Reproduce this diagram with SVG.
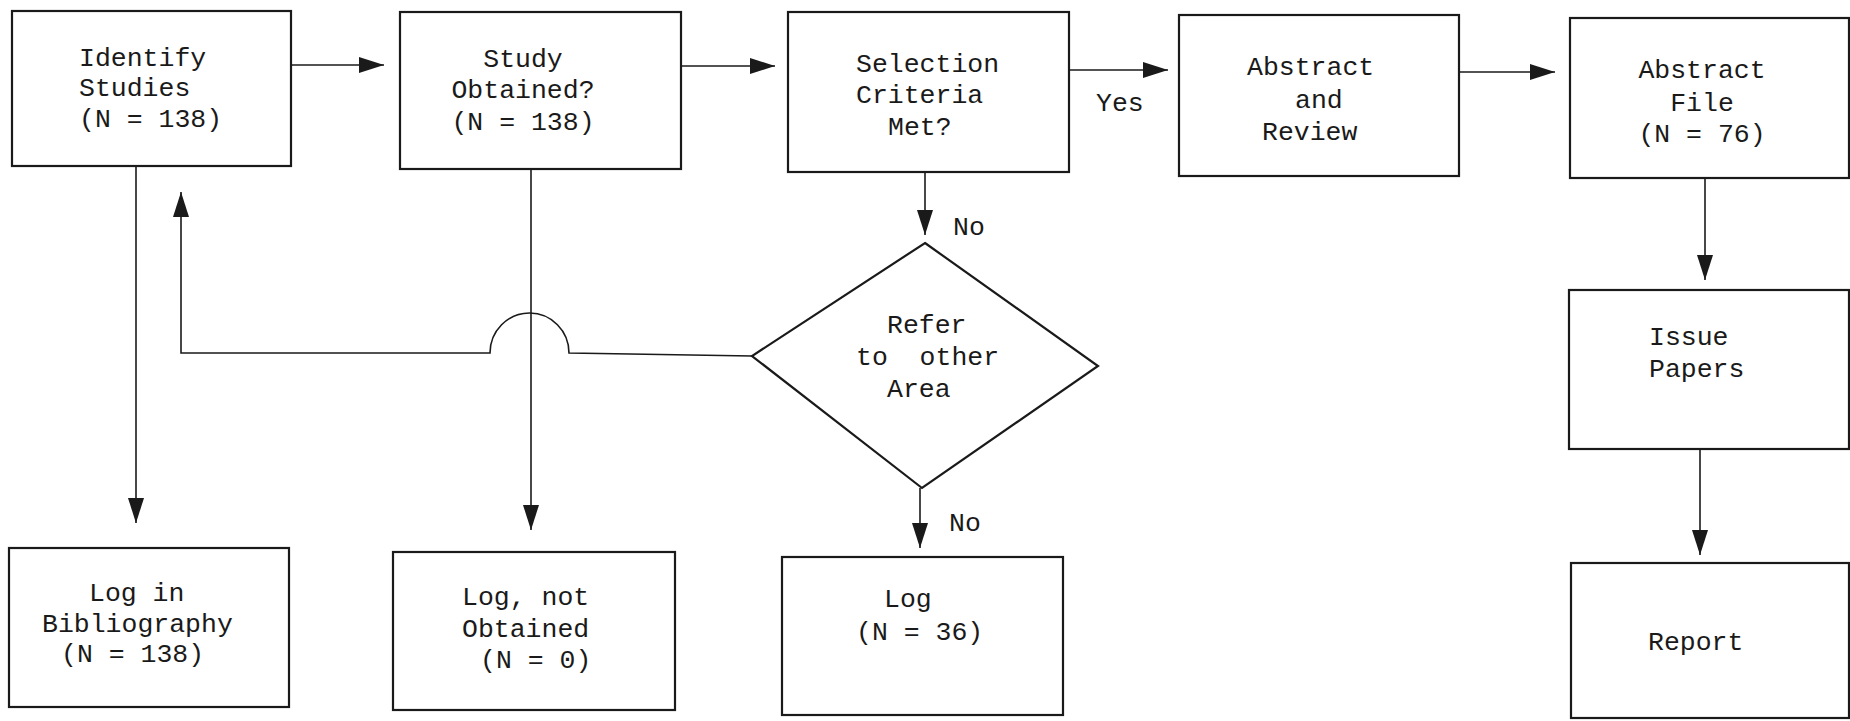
<svg xmlns="http://www.w3.org/2000/svg" width="1850" height="721" viewBox="0 0 1850 721">
<style>
  .box { fill: #ffffff; stroke: #1a1a1a; stroke-width: 2.2; }
  .conn { fill: none; stroke: #1a1a1a; stroke-width: 1.6; }
  text { font-family: "Liberation Mono", "Courier New", monospace; font-size: 26.5px; fill: #1a1a1a; }
  .mid { text-anchor: middle; }
</style>
<defs>
  <marker id="arrow" markerUnits="userSpaceOnUse" markerWidth="26" markerHeight="16" refX="25" refY="8" orient="auto">
    <path d="M0,0 L25,8 L0,16 Z" fill="#1a1a1a"/>
  </marker>
</defs>
<rect width="1850" height="721" fill="#ffffff"/>

<g id="connectors">
  <line class="conn" x1="291" y1="65" x2="384" y2="65" marker-end="url(#arrow)"/>
  <line class="conn" x1="681" y1="66" x2="775" y2="66" marker-end="url(#arrow)"/>
  <line class="conn" x1="1069" y1="70" x2="1168" y2="70" marker-end="url(#arrow)"/>
  <line class="conn" x1="1459" y1="72" x2="1555" y2="72" marker-end="url(#arrow)"/>
  <line class="conn" x1="1705" y1="178" x2="1705" y2="280" marker-end="url(#arrow)"/>
  <line class="conn" x1="1700" y1="449" x2="1700" y2="555" marker-end="url(#arrow)"/>
  <line class="conn" x1="925" y1="172" x2="925" y2="235" marker-end="url(#arrow)"/>
  <line class="conn" x1="920" y1="488" x2="920" y2="548" marker-end="url(#arrow)"/>
  <line class="conn" x1="136" y1="166" x2="136" y2="523" marker-end="url(#arrow)"/>
  <line class="conn" x1="531" y1="169" x2="531" y2="530" marker-end="url(#arrow)"/>
  <path class="conn" d="M752,356 L569,353 A39.5,40 0 0 0 490,353 L181,353 L181,192" marker-end="url(#arrow)"/>
  <text x="1096" y="111">Yes</text>
  <text x="953" y="235">No</text>
  <text x="949" y="531">No</text>
</g>

<g id="identify">
  <rect class="box" x="12" y="11" width="279" height="155"/>
  <text x="79" y="66">Identify</text>
  <text x="79" y="96">Studies</text>
  <text x="79" y="127">(N = 138)</text>
</g>

<g id="obtained">
  <rect class="box" x="400" y="12" width="281" height="157"/>
  <text class="mid" x="523" y="67">Study</text>
  <text class="mid" x="523" y="98">Obtained?</text>
  <text class="mid" x="523" y="130">(N = 138)</text>
</g>

<g id="selection">
  <rect class="box" x="788" y="12" width="281" height="160"/>
  <text x="856" y="72">Selection</text>
  <text x="856" y="103">Criteria</text>
  <text x="888" y="135">Met?</text>
</g>

<g id="abstract-review">
  <rect class="box" x="1179" y="15" width="280" height="161"/>
  <text x="1247" y="75">Abstract</text>
  <text x="1295" y="108">and</text>
  <text x="1262" y="140">Review</text>
</g>

<g id="abstract-file">
  <rect class="box" x="1570" y="18" width="279" height="160"/>
  <text class="mid" x="1702" y="78">Abstract</text>
  <text class="mid" x="1702" y="111">File</text>
  <text class="mid" x="1702" y="142">(N = 76)</text>
</g>

<g id="issue-papers">
  <rect class="box" x="1569" y="290" width="280" height="159"/>
  <text x="1649" y="345">Issue</text>
  <text x="1649" y="377">Papers</text>
</g>

<g id="report">
  <rect class="box" x="1571" y="563" width="278" height="155"/>
  <text x="1648" y="650">Report</text>
</g>

<g id="refer">
  <polygon class="box" points="925,243 1098,366 922,488 752,356"/>
  <text x="887" y="333">Refer</text>
  <text x="856" y="365" xml:space="preserve">to  other</text>
  <text x="887" y="397">Area</text>
</g>

<g id="log-bibliography">
  <rect class="box" x="9" y="548" width="280" height="159"/>
  <text x="89" y="601">Log in</text>
  <text x="42" y="632">Bibliography</text>
  <text x="61" y="662">(N = 138)</text>
</g>

<g id="log-not-obtained">
  <rect class="box" x="393" y="552" width="282" height="158"/>
  <text x="462" y="605">Log, not</text>
  <text x="462" y="637">Obtained</text>
  <text x="480" y="668">(N = 0)</text>
</g>

<g id="log-36">
  <rect class="box" x="782" y="557" width="281" height="158"/>
  <text x="884" y="607">Log</text>
  <text x="856" y="640">(N = 36)</text>
</g>
</svg>
